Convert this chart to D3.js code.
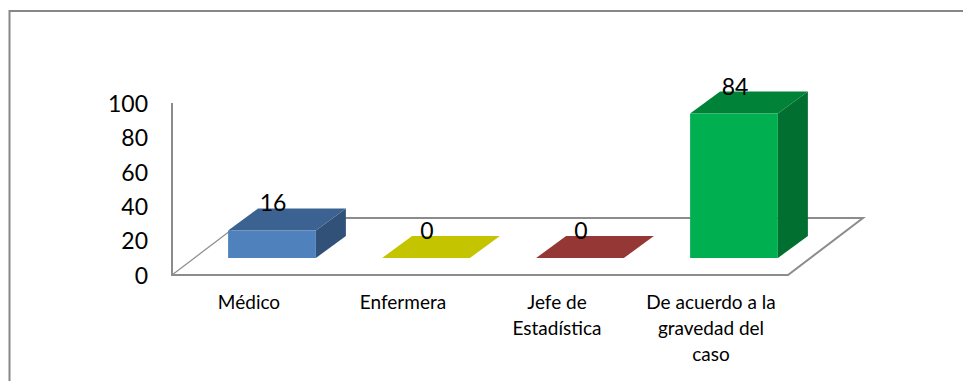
<!DOCTYPE html>
<html>
<head>
<meta charset="utf-8">
<script src="https://d3js.org/d3.v7.min.js"></script>
<style>
  html, body { margin: 0; padding: 0; background: #fff; }
  svg { display: block; }
  text { font-family: Lato, "Open Sans", sans-serif; fill: #000; }
</style>
</head>
<body>
<script>
const categories = ["Médico", "Enfermera", "Jefe de Estadística", "De acuerdo a la gravedad del caso"];
const categoryLines = [["Médico"], ["Enfermera"], ["Jefe de", "Estadística"], ["De acuerdo a la", "gravedad del", "caso"]];
const values = [16, 0, 0, 84];
const yTicks = [0, 20, 40, 60, 80, 100];
const frontColors = ["#4f81bd", "#c4c400", "#953735", "#00b050"];
const topColors = ["#3c6291", "#c4c400", "#953735", "#008238"];
const sideColors = ["#325179", "#a3a300", "#7c2d2c", "#006f30"];

const width = 963, height = 381;

// Floor of the 3D plot: front edge and receding depth vector.
const floor = { x0: 172, x1: 788, y: 275, dx: 75, dy: -57 };
// Depth of a bar and how far its base sits behind the front edge of the floor.
const barDepth = { dx: 30, dy: -22 };
const barInset = { dx: 23, dy: -17 };

const x = d3.scaleBand().domain(categories).range([floor.x0, floor.x1]).paddingInner(0.43).paddingOuter(0.215);
const y = d3.scaleLinear().domain([0, 100]).range([0, 172]);

const svg = d3.select("body").append("svg").attr("width", width).attr("height", height);

// Outer chart frame: only its left and top edges fall inside the page.
svg.append("path")
  .attr("d", `M9.5,${height} V11 H${width}`)
  .attr("fill", "none").attr("stroke", "#878787").attr("stroke-width", 2);

// Walls and floor outline.
const axisColor = "#8c8c8c";
svg.append("path")
  .attr("d", `M${floor.x0},${floor.y - 172} V${floor.y} H${floor.x1} l${floor.dx},${floor.dy} H${floor.x0 + floor.dx + 98}`)
  .attr("fill", "none").attr("stroke", axisColor).attr("stroke-width", 2);
svg.append("line")
  .attr("x1", floor.x0).attr("y1", floor.y)
  .attr("x2", floor.x0 + floor.dx).attr("y2", floor.y + floor.dy)
  .attr("stroke", axisColor).attr("stroke-width", 1.2);

// Value axis labels.
svg.append("g").selectAll("text").data(yTicks).join("text")
  .attr("x", 148).attr("y", d => floor.y - y(d) + 3)
  .attr("text-anchor", "end").attr("dominant-baseline", "middle")
  .attr("font-size", 23).text(d => d);

// Bars: a front face, a top face and a side face.
const bars = svg.append("g").selectAll("g").data(categories).join("g");
const left = c => x(c) + barInset.dx;
const base = floor.y + barInset.dy;
const val = i => y(values[i]);

bars.append("path")
  .attr("d", (c, i) => {
    const a = left(c) + x.bandwidth(), t = base - val(i);
    return `M${a},${base} V${t} l${barDepth.dx},${barDepth.dy} V${base + barDepth.dy} Z`;
  })
  .attr("fill", (c, i) => sideColors[i]);
bars.append("path")
  .attr("d", (c, i) => {
    const t = base - val(i);
    return `M${left(c)},${t} h${x.bandwidth()} l${barDepth.dx},${barDepth.dy} h${-x.bandwidth()} Z`;
  })
  .attr("fill", (c, i) => topColors[i]);
bars.append("rect")
  .attr("x", c => left(c)).attr("width", x.bandwidth())
  .attr("y", (c, i) => base - val(i)).attr("height", (c, i) => val(i))
  .attr("fill", (c, i) => frontColors[i]);

// Value labels centred over the front face, reaching into the top face.
bars.append("text")
  .attr("x", c => left(c) + x.bandwidth() / 2 + 1)
  .attr("y", (c, i) => base - val(i) + barDepth.dy + 3)
  .attr("text-anchor", "middle")
  .attr("font-size", 23)
  .text((c, i) => values[i]);

// Wrapped category labels under the floor.
const labels = svg.append("g").selectAll("text").data(categories).join("text")
  .attr("text-anchor", "middle").attr("font-size", 19);
labels.selectAll("tspan").data((c, i) => categoryLines[i].map(t => ({ t, c }))).join("tspan")
  .attr("x", d => x(d.c) + x.bandwidth() / 2)
  .attr("y", (d, j) => 309 + j * 26)
  .text(d => d.t);
</script>
</body>
</html>
